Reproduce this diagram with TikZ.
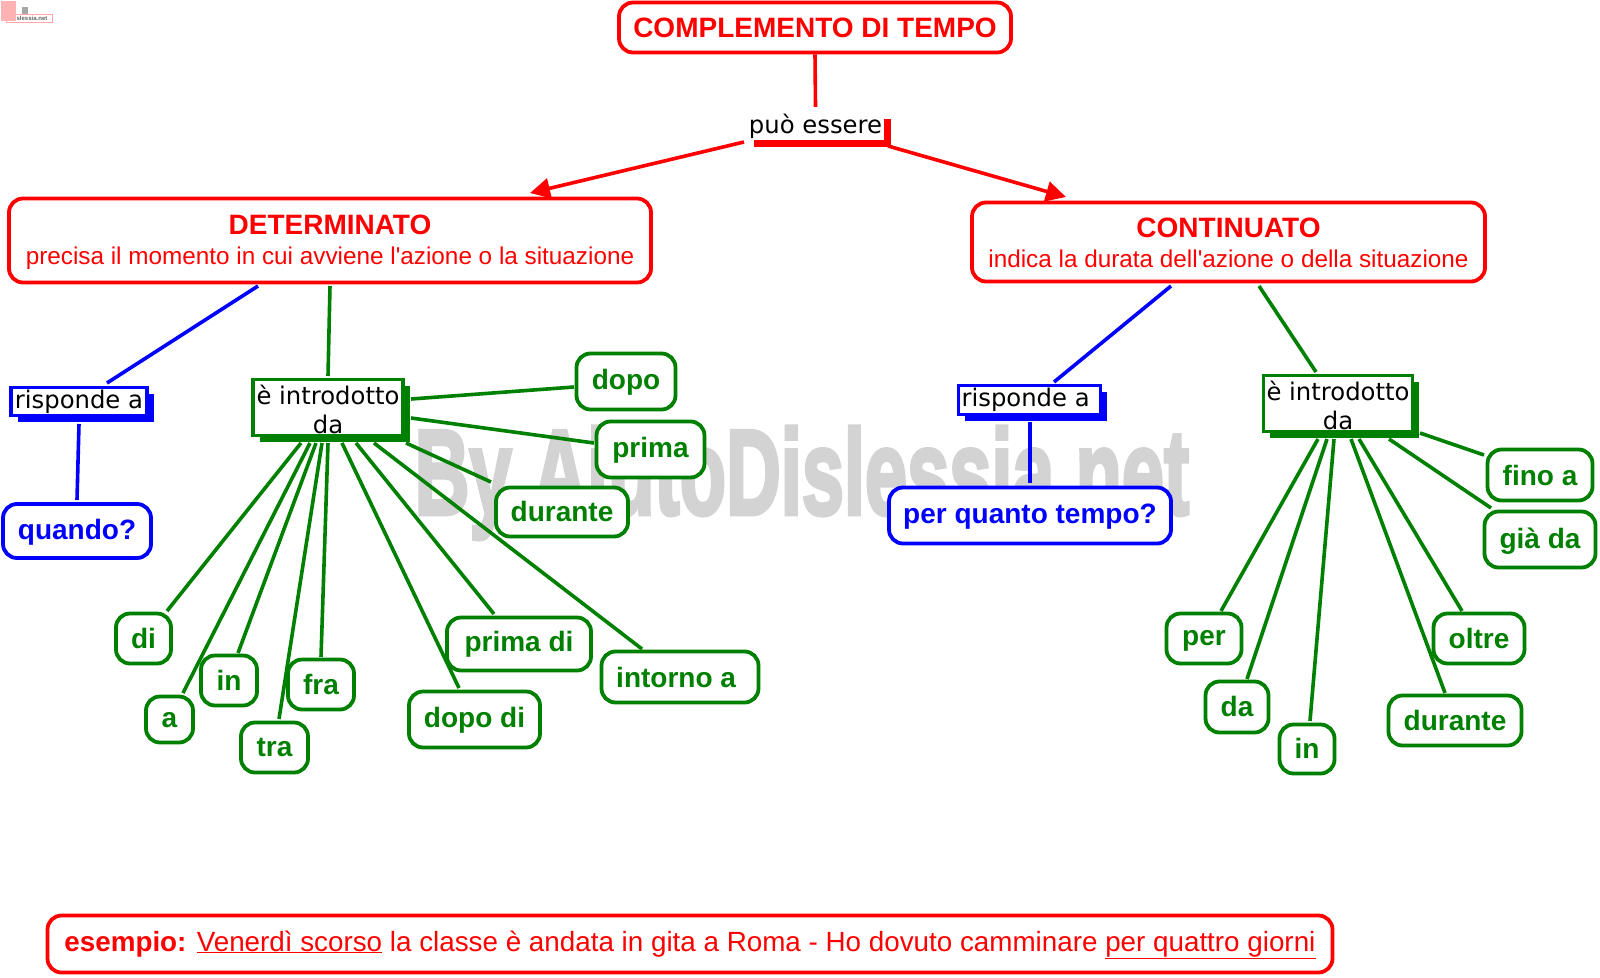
\documentclass[tikz,border=0pt]{standalone}
\usepackage{fontspec}
\setmainfont{Liberation Sans}
\newfontfamily\labelfont{DejaVu Sans}
\newfontfamily\markfont[FakeBold=3.5]{Liberation Sans Bold}
\usetikzlibrary{shadows, arrows.meta}
\definecolor{mapred}{HTML}{FF0000}
\definecolor{mapblue}{HTML}{0000FF}
\definecolor{mapgreen}{HTML}{008000}
\definecolor{markgray}{HTML}{D3D3D3}
\tikzset{
  box/.style={draw, rounded corners=14pt, line width=3.8pt, fill=white, inner sep=0pt, align=center},
  redbox/.style={box, draw=mapred, text=mapred},
  bluebox/.style={box, draw=mapblue, text=mapblue, text height=22pt, text depth=6pt, font=\fontsize{28}{30}\selectfont\bfseries},
  greenbox/.style={box, draw=mapgreen, text=mapgreen, text height=22pt, text depth=6pt, font=\fontsize{28}{30}\selectfont\bfseries},
  linkbox/.style={fill=white, inner sep=0pt, align=center, font=\labelfont\fontsize{24.3}{29.5}\selectfont, general shadow={fill=#1, shadow xshift=6.5pt, shadow yshift=-6.5pt}},
  redline/.style={draw=mapred, line width=3.6pt},
  blueline/.style={draw=mapblue, line width=3.6pt},
  greenline/.style={draw=mapgreen, line width=3.6pt},
}
\begin{document}
\begin{tikzpicture}[x=1pt, y=-1pt]
  \useasboundingbox (0,0) rectangle (1600,977);
  % logo and watermark
  \node[draw=mapred!35, fill=white, line width=.8pt, minimum width=46pt, minimum height=8pt, inner sep=0pt, font=\fontsize{6}{6}\selectfont\bfseries, text=black!60] (logo) at (29,18.5) {Dislessia.net};
  \node[fill=mapred!30, minimum width=15pt, minimum height=20pt, inner sep=0pt] (logohouse) at (8,11) {};
  \node[fill=black!35, minimum width=6pt, minimum height=7pt, inner sep=0pt] (logoman) at (25,10) {};
  \node[text=markgray, inner sep=0pt, font=\markfont\fontsize{121}{121}\selectfont] (mark) at (802,483) {\scalebox{.626}[1]{By AiutoDislessia.net}};
  % top
  \node[redbox, minimum width=392pt, minimum height=50pt, text height=26pt, text depth=6pt, font=\fontsize{28}{30}\selectfont\bfseries] (title) at (815,27.5) {COMPLEMENTO DI TEMPO};
  \node[linkbox=mapred, minimum width=137pt, minimum height=28pt] (puo) at (815.5,126) {può essere};
  \node[redbox, minimum width=642pt, minimum height=84pt, font=\fontsize{24.3}{30}\selectfont] (det) at (330,240.5) {\rule{0pt}{23pt}{\fontsize{28}{30}\selectfont\bfseries DETERMINATO}\\precisa il momento in cui avviene l\textquotesingle azione o la situazione};
  \node[redbox, minimum width=513pt, minimum height=79pt, font=\fontsize{24.3}{30}\selectfont] (cont) at (1228.5,242) {\rule{0pt}{22pt}{\fontsize{28}{30}\selectfont\bfseries CONTINUATO}\\indica la durata dell\textquotesingle azione o della situazione};
  % determinato
  \node[linkbox=mapblue, draw=mapblue, line width=3.6pt, minimum width=136pt, minimum height=28pt] (rispA) at (79,401.5) {risponde a};
  \node[linkbox=mapgreen, draw=mapgreen, line width=3.6pt, minimum width=150pt, minimum height=56pt] (introA) at (328,407.5) {\rule{0pt}{23pt}è introdotto\\da};
  \node[bluebox, minimum width=148pt, minimum height=54pt] (quando) at (77,531) {quando?};
  \node[greenbox, minimum width=99pt, minimum height=56pt] (dopo) at (626,381.5) {dopo};
  \node[greenbox, minimum width=108pt, minimum height=56pt] (prima) at (650.5,449.5) {prima};
  \node[greenbox, minimum width=132pt, minimum height=49pt, text height=24pt] (durA) at (562,512) {durante};
  \node[greenbox, minimum width=55pt, minimum height=50pt, text height=26pt] (di) at (143.5,638.5) {di};
  \node[greenbox, minimum width=47pt, minimum height=46pt] (a) at (169.5,719.5) {a};
  \node[greenbox, minimum width=56pt, minimum height=50pt, text height=26pt] (inA) at (229,680.5) {in};
  \node[greenbox, minimum width=66pt, minimum height=50pt, text height=26pt] (fra) at (321,684.5) {fra};
  \node[greenbox, minimum width=67pt, minimum height=50pt, text height=24pt] (tra) at (274.5,747.5) {tra};
  \node[greenbox, minimum width=131pt, minimum height=56pt] (dopodi) at (474.5,719.5) {dopo di};
  \node[greenbox, minimum width=144pt, minimum height=53pt, text height=20pt] (primadi) at (519,644) {prima di};
  \node[greenbox, minimum width=157pt, minimum height=51pt, text height=26pt] (intorno) at (680,677) {intorno a\ };
  % continuato
  \node[linkbox=mapblue, draw=mapblue, line width=3.6pt, minimum width=142pt, minimum height=29pt] (rispB) at (1029.5,400) {risponde a\ };
  \node[linkbox=mapgreen, draw=mapgreen, line width=3.6pt, minimum width=149pt, minimum height=56pt] (introB) at (1338,403.5) {\rule{0pt}{23pt}è introdotto\\da};
  \node[bluebox, minimum width=282pt, minimum height=56pt] (quanto) at (1030,515.5) {per quanto tempo?};
  \node[greenbox, minimum width=105pt, minimum height=51pt, text height=26pt] (fino) at (1540,475) {fino a};
  \node[greenbox, minimum width=111pt, minimum height=56pt, text height=24pt] (gia) at (1540,539.5) {già da};
  \node[greenbox, minimum width=75pt, minimum height=50pt, text height=20pt] (per) at (1204,638.5) {per};
  \node[greenbox, minimum width=63pt, minimum height=51pt, text height=24pt] (da) at (1237,707) {da};
  \node[greenbox, minimum width=55pt, minimum height=49pt, text height=24pt] (inB) at (1307,749) {in};
  \node[greenbox, minimum width=91pt, minimum height=50pt, text height=26pt] (oltre) at (1479,638.5) {oltre};
  \node[greenbox, minimum width=133pt, minimum height=50pt, text height=26pt] (durB) at (1455,720.5) {durante};
  % example
  \node[redbox, minimum width=1285pt, minimum height=57pt, text height=20pt, text depth=6pt, font=\fontsize{27.8}{30}\selectfont] (esempio) at (690,944) {\textbf{esempio:} \underline{Venerdì scorso} la classe è andata in gita a Roma - Ho dovuto camminare \underline{per quattro giorni}};
  % connectors
  \draw[redline] (title.south) -- ([yshift=5pt]puo.north);
  \draw[redline, -{Triangle[length=20pt,width=20pt]}] ([shift={(-71.5,16)}]puo.center) -- ([shift={(200,-47.5)}]det.center);
  \draw[redline, -{Triangle[length=20pt,width=20pt]}] ([shift={(72.5,20)}]puo.center) -- ([shift={(-162.5,-45)}]cont.center);
  \draw[blueline] ([shift={(-72,45.5)}]det.center) -- ([shift={(28,-18.5)}]rispA.center);
  \draw[greenline] ([shift={(0,45.5)}]det.center) -- ([shift={(0,-31.5)}]introA.center);
  \draw[blueline] ([shift={(0,22.5)}]rispA.center) -- ([shift={(0,-31)}]quando.center);
  \draw[greenline] ([shift={(83,-8.5)}]introA.center) -- ([shift={(-52,5.5)}]dopo.center);
  \draw[greenline] ([shift={(83,10.5)}]introA.center) -- ([shift={(-56.5,-6.5)}]prima.center);
  \draw[greenline] ([shift={(78,35.5)}]introA.center) -- ([shift={(-71,-30)}]durA.center);
  \draw[greenline] ([shift={(-27,35.5)}]introA.center) -- ([shift={(23.5,-27.5)}]di.center);
  \draw[greenline] ([shift={(-18,35.5)}]introA.center) -- ([shift={(13.5,-26.5)}]a.center);
  \draw[greenline] ([shift={(-12,35.5)}]introA.center) -- ([shift={(9,-27.5)}]inA.center);
  \draw[greenline] ([shift={(-6,35.5)}]introA.center) -- ([shift={(4.5,-28.5)}]tra.center);
  \draw[greenline] ([shift={(0,35.5)}]introA.center) -- ([shift={(0,-27.5)}]fra.center);
  \draw[greenline] ([shift={(14,35.5)}]introA.center) -- ([shift={(-15.5,-31.5)}]dopodi.center);
  \draw[greenline] ([shift={(28,35.5)}]introA.center) -- ([shift={(-25,-30)}]primadi.center);
  \draw[greenline] ([shift={(46,35.5)}]introA.center) -- ([shift={(-38,-28)}]intorno.center);
  \draw[blueline] ([shift={(-57.5,44)}]cont.center) -- ([shift={(24.5,-18)}]rispB.center);
  \draw[greenline] ([shift={(30.5,44)}]cont.center) -- ([shift={(-22,-31.5)}]introB.center);
  \draw[blueline] ([shift={(0.5,22)}]rispB.center) -- ([shift={(0,-32.5)}]quanto.center);
  \draw[greenline] ([shift={(82,29.5)}]introB.center) -- ([shift={(-56,-20)}]fino.center);
  \draw[greenline] ([shift={(51,35.5)}]introB.center) -- ([shift={(-49,-31.5)}]gia.center);
  \draw[greenline] ([shift={(-20,35.5)}]introB.center) -- ([shift={(17,-27.5)}]per.center);
  \draw[greenline] ([shift={(-11,35.5)}]introB.center) -- ([shift={(10,-28)}]da.center);
  \draw[greenline] ([shift={(-4,35.5)}]introB.center) -- ([shift={(3,-28)}]inB.center);
  \draw[greenline] ([shift={(13,35.5)}]introB.center) -- ([shift={(-10,-27.5)}]durB.center);
  \draw[greenline] ([shift={(21,35.5)}]introB.center) -- ([shift={(-17,-27.5)}]oltre.center);
\end{tikzpicture}
\end{document}
